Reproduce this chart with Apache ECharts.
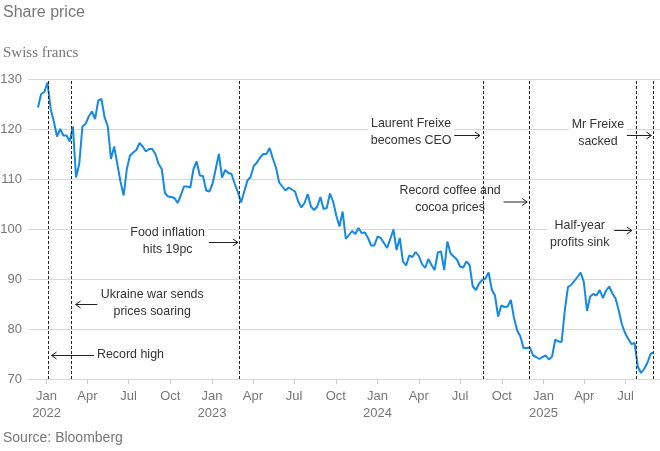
<!DOCTYPE html>
<html>
<head>
<meta charset="utf-8">
<script src="https://cdn.jsdelivr.net/npm/echarts@6/dist/echarts.min.js"></script>
<style>
html, body { margin: 0; padding: 0; background: #fff; }
#chart { width: 660px; height: 451px; }
</style>
</head>
<body>
<div id="chart"></div>
<script>
// weekly closes, Swiss francs (first week starts 13 Dec 2021)
var startDate = '2021-12-13';
var weeklyClose = [
	124.3, 127.0, 127.4, 129.3, 124.0, 121.5, 118.5, 120.0, 118.7, 118.7,
	117.5, 120.5, 110.3, 113.0, 120.5, 121.0, 122.5, 123.5, 122.0, 125.7,
	126.0, 122.3, 120.5, 114.0, 116.5, 113.0, 109.5, 106.7, 112.0, 114.7,
	115.3, 115.8, 117.2, 116.5, 115.5, 116.0, 116.0, 115.0, 113.0, 112.0,
	107.2, 106.5, 106.4, 106.2, 105.2, 106.7, 108.5, 108.5, 108.3, 112.0,
	113.5, 110.7, 110.6, 107.7, 107.5, 109.0, 112.0, 115.0, 110.3, 111.8,
	111.2, 111.0, 109.0, 107.4, 105.3, 107.5, 109.7, 110.4, 112.6, 113.3,
	114.3, 115.0, 115.0, 116.2, 114.1, 112.3, 109.3, 108.5, 107.7, 108.3,
	107.9, 107.5, 105.5, 104.3, 105.2, 107.0, 104.5, 103.8, 104.5, 106.4,
	104.0, 104.2, 107.1, 105.5, 102.7, 100.5, 103.5, 98.0, 98.8, 99.6,
	99.0, 100.2, 99.2, 99.3, 98.2, 96.7, 96.7, 98.5, 98.2, 97.2,
	96.2, 98.0, 99.9, 95.8, 98.2, 93.5, 92.7, 94.7, 94.4, 95.4,
	94.6, 93.0, 92.2, 94.0, 92.8, 91.8, 95.3, 95.5, 91.8, 97.5,
	95.1, 94.5, 93.9, 92.5, 92.3, 93.5, 92.8, 88.5, 87.8, 89.1,
	89.8, 90.1, 91.3, 87.9, 86.7, 82.5, 84.7, 84.4, 84.5, 85.8,
	82.2, 79.7, 78.5, 76.2, 76.2, 76.3, 74.7, 74.4, 74.0, 74.4,
	74.7, 73.9, 74.5, 77.9, 77.5, 77.4, 83.7, 88.4, 88.8, 89.6,
	90.4, 91.3, 89.4, 83.6, 86.5, 87.0, 86.7, 87.8, 86.2, 87.7,
	88.5, 87.1, 86.1, 83.7, 80.9, 79.2, 78.0, 77.0, 77.2, 72.5,
	71.2, 72.0, 73.2, 75.0, 75.3
];

// events marked with dashed lines
var eventDates = ['2022-01-05', '2022-02-24', '2023-03-01', '2024-08-22', '2024-12-01', '2025-07-24', '2025-09-01'];
var eventNotes = [
	'Record high',
	'Ukraine war sends\nprices soaring',
	'Food inflation\nhits 19pc',
	'Laurent Freixe\nbecomes CEO',
	'Record coffee and\ncocoa prices',
	'Half-year\nprofits sink',
	'Mr Freixe\nsacked'
];

var tickDates = ['2022-01-01', '2022-04-01', '2022-07-01', '2022-10-01',
	'2023-01-01', '2023-04-01', '2023-07-01', '2023-10-01',
	'2024-01-01', '2024-04-01', '2024-07-01', '2024-10-01',
	'2025-01-01', '2025-04-01', '2025-07-01'];
var tickLabels = ['Jan\n2022', 'Apr', 'Jul', 'Oct', 'Jan\n2023', 'Apr', 'Jul', 'Oct',
	'Jan\n2024', 'Apr', 'Jul', 'Oct', 'Jan\n2025', 'Apr', 'Jul'];

// where each note and its arrow sit, in chart coordinates (date, francs)
var noteLayout = [
	{ tail: '2022-04-16', head: '2022-01-12', arrowY: 74.7, textAt: '2022-07-05', textY: 75.0 },
	{ tail: '2022-04-23', head: '2022-03-06', arrowY: 84.9, textAt: '2022-08-22', textY: 85.3 },
	{ tail: '2022-12-25', head: '2023-02-27', arrowY: 97.3, textAt: '2022-09-25', textY: 97.7 },
	{ tail: '2024-06-15', head: '2024-08-14', arrowY: 118.7, textAt: '2024-03-15', textY: 119.5 },
	{ tail: '2024-10-03', head: '2024-11-26', arrowY: 105.4, textAt: '2024-06-09', textY: 106.1 },
	{ tail: '2025-06-06', head: '2025-07-15', arrowY: 99.7, textAt: '2025-03-22', textY: 99.1 },
	{ tail: '2025-07-01', head: '2025-08-27', arrowY: 118.7, textAt: '2025-05-01', textY: 119.2 }
];

var labelFont = '"Liberation Sans", Arial, sans-serif';
var sans = '"Liberation Sans", Arial, sans-serif';

function t(s) {
	var p = s.split('-');
	return new Date(+p[0], +p[1] - 1, +p[2]).getTime();
}

var s0 = startDate.split('-');
var priceData = [];
for (var i = 0; i < weeklyClose.length; i++) {
	var d = new Date(+s0[0], +s0[1] - 1, +s0[2] + 7 * i);
	priceData.push([d.getTime(), weeklyClose[i]]);
}

var tickTimes = tickDates.map(t);

var chart = echarts.init(document.getElementById('chart'));

var option = {
	animation: false,
	backgroundColor: '#fff',
	grid: { left: 28, right: 0, top: 79, bottom: 72, containLabel: false, outerBoundsMode: 'none' },
	graphic: [
		{ type: 'text', left: 3, top: 5, style: { text: 'Share price', fill: '#777', font: '16px ' + sans } },
		{ type: 'text', left: 3, top: 46, style: { text: 'Swiss francs', fill: '#777', font: '15px "Liberation Serif", "DejaVu Serif", serif' } },
		{ type: 'text', left: 3, top: 431, style: { text: 'Source: Bloomberg', fill: '#777', font: '14px ' + sans } }
	],
	xAxis: {
		type: 'value',
		min: t('2021-11-21'),
		max: t('2025-09-15'),
		axisLine: { show: true, lineStyle: { color: '#d6d6d6', width: 1 } },
		axisTick: { show: true, customValues: tickTimes, length: 5, lineStyle: { color: '#cfcfcf' } },
		splitLine: { show: false },
		axisLabel: {
			customValues: tickTimes,
			formatter: function (v) {
				var k = tickTimes.indexOf(v);
				return k >= 0 ? tickLabels[k] : '';
			},
			color: '#777',
			fontFamily: labelFont,
			fontSize: 13,
			lineHeight: 17,
			margin: 9
		}
	},
	yAxis: {
		type: 'value',
		min: 70,
		max: 130,
		interval: 10,
		axisLine: { show: false },
		axisTick: { show: false },
		splitLine: { lineStyle: { color: '#d9d9d9', width: 1 } },
		axisLabel: { color: '#777', fontFamily: labelFont, fontSize: 13, margin: 6 }
	},
	series: [
		{
			type: 'line',
			data: priceData,
			showSymbol: false,
			symbol: 'none',
			lineStyle: { color: '#1489e6', width: 2 },
			itemStyle: { color: '#1489e6' },
			silent: true,
			z: 3,
			markLine: {
				silent: true,
				symbol: ['none', 'none'],
				label: { show: false },
				lineStyle: { color: '#222', type: [3, 2], width: 1 },
				data: eventDates.map(function (d) { return { xAxis: t(d) }; })
			}
		},
		{
			type: 'custom',
			silent: true,
			z: 4,
			data: noteLayout.map(function (n) { return [t(n.tail), n.arrowY]; }),
			encode: { x: 0, y: 1 },
			renderItem: function (params, api) {
				var n = noteLayout[params.dataIndex];
				var a = api.coord([t(n.tail), n.arrowY]);
				var b = api.coord([t(n.head), n.arrowY]);
				var c = api.coord([t(n.textAt), n.textY]);
				var dir = b[0] > a[0] ? 1 : -1;
				return {
					type: 'group',
					children: [
						{
							type: 'line',
							shape: { x1: a[0], y1: a[1], x2: b[0], y2: b[1] },
							style: { stroke: '#222', lineWidth: 1 }
						},
						{
							type: 'polyline',
							shape: { points: [[b[0] - 5 * dir, b[1] - 3.5], [b[0], b[1]], [b[0] - 5 * dir, b[1] + 3.5]] },
							style: { stroke: '#222', lineWidth: 1, fill: null }
						},
						{
							type: 'text',
							x: c[0],
							y: c[1],
							scaleX: 0.92,
							style: {
								text: eventNotes[params.dataIndex],
								fill: '#333',
								fontFamily: labelFont,
								fontSize: 13.5,
								lineHeight: 17,
								align: 'center',
								verticalAlign: 'middle',
								backgroundColor: '#fff',
								padding: [0, 3]
							}
						}
					]
				};
			}
		}
	]
};

chart.setOption(option);
</script>
</body>
</html>
